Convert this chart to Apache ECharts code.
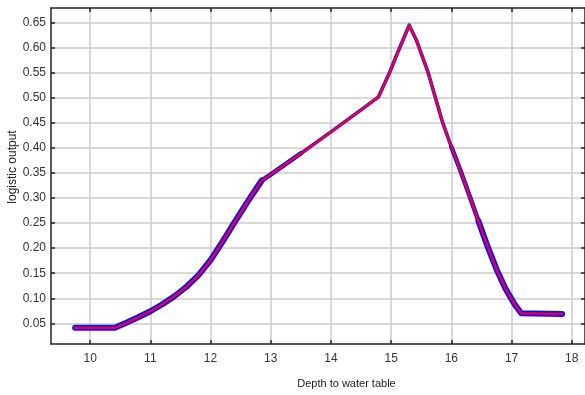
<!DOCTYPE html>
<html>
<head>
<meta charset="utf-8">
<script src="https://cdn.jsdelivr.net/npm/echarts@6/dist/echarts.min.js"></script>
<style>
  html, body { margin: 0; padding: 0; background: #fff; }
  #chart { width: 585px; height: 395px; }
</style>
</head>
<body>
<div id="chart"></div>
<script>
// Response curve: logistic output against depth to water table
const depth  = [9.75, 10.41, 10.6, 10.8, 11.0, 11.2, 11.4, 11.6, 11.8, 12.0, 12.2, 12.4, 12.6, 12.75, 12.85,
                13.0, 13.5, 14.0, 14.5, 14.79, 14.98, 15.1, 15.3, 15.42, 15.61, 15.86,
                16.0, 16.16, 16.3, 16.45, 16.6, 16.75, 16.9, 17.05, 17.16, 17.84];
const output = [0.041, 0.041, 0.051, 0.062, 0.074, 0.088, 0.104, 0.123, 0.146, 0.176, 0.213, 0.252, 0.290, 0.317, 0.335,
                0.347, 0.389, 0.432, 0.476, 0.502, 0.552, 0.588, 0.645, 0.615, 0.552, 0.449,
                0.402, 0.352, 0.305, 0.254, 0.204, 0.158, 0.119, 0.088, 0.070, 0.0685];

const xTicks = [10, 11, 12, 13, 14, 15, 16, 17, 18];
const yTicks = [0.05, 0.10, 0.15, 0.20, 0.25, 0.30, 0.35, 0.40, 0.45, 0.50, 0.55, 0.60, 0.65];

const points = depth.map((d, i) => [d, output[i]]);
const within = (lo, hi) => points.filter(p => p[0] >= lo && p[0] <= hi);

const FONT = 'Liberation Sans, Arial, sans-serif';
const AXIS_COLOR = '#222';
const GRID_COLOR = '#cbcbcb';
const BLUE = '#1010ff';
const RED = '#e6003c';

const tickStyle = { show: true, inside: true, length: 4, lineStyle: { color: AXIS_COLOR, width: 1.5 } };

// blue spread drawn in pieces: wide on the flanks, narrow around the peak
const spread = (lo, hi, width) => ({
  type: 'line', xAxisIndex: 0, yAxisIndex: 0, data: within(lo, hi), showSymbol: false,
  lineStyle: { color: BLUE, width: width, join: 'round', cap: 'round' }, z: 2
});

const chart = echarts.init(document.getElementById('chart'), null, { renderer: 'canvas' });

chart.setOption({
  animation: false,
  backgroundColor: '#fff',
  grid: { left: 51, right: 0, top: 8, bottom: 51, containLabel: false, outerBoundsMode: 'none' },
  xAxis: [
    {
      type: 'value', position: 'bottom', min: 9.35, max: 18.22,
      name: 'Depth to water table', nameLocation: 'middle', nameGap: 34, nameMoveOverlap: false,
      nameTextStyle: { fontFamily: FONT, fontSize: 11, color: '#222', padding: [0, 0, 0, 57] },
      axisLine: { show: true, onZero: false, lineStyle: { color: AXIS_COLOR, width: 1.5 } },
      axisTick: Object.assign({ customValues: xTicks }, tickStyle),
      axisLabel: { customValues: xTicks, margin: 9, fontFamily: FONT, fontSize: 12, color: '#333' },
      splitLine: { show: true, lineStyle: { color: GRID_COLOR, width: 1.5 } }
    },
    {
      type: 'value', position: 'top', min: 9.35, max: 18.22,
      axisLine: { show: true, onZero: false, lineStyle: { color: AXIS_COLOR, width: 1.5 } },
      axisTick: Object.assign({ customValues: xTicks }, tickStyle),
      axisLabel: { show: false },
      splitLine: { show: false }
    }
  ],
  yAxis: [
    {
      type: 'value', position: 'left', min: 0.0087, max: 0.6793,
      name: 'logistic output', nameLocation: 'middle', nameGap: 32, nameMoveOverlap: false,
      nameTextStyle: { fontFamily: FONT, fontSize: 12, color: '#222', padding: [0, 0, 0, 18] },
      axisLine: { show: true, onZero: false, lineStyle: { color: AXIS_COLOR, width: 1.5 } },
      axisTick: Object.assign({ customValues: yTicks }, tickStyle),
      axisLabel: { customValues: yTicks, margin: 5, fontFamily: FONT, fontSize: 12, color: '#333',
                   formatter: v => v.toFixed(2) },
      splitLine: { show: true, lineStyle: { color: GRID_COLOR, width: 1.5 } }
    },
    {
      type: 'value', position: 'right', min: 0.0087, max: 0.6793,
      axisLine: { show: true, onZero: false, lineStyle: { color: AXIS_COLOR, width: 1.5 } },
      axisTick: Object.assign({ customValues: yTicks }, tickStyle),
      axisLabel: { show: false },
      splitLine: { show: false }
    }
  ],
  series: [
    spread(9, 12.85, 6),
    spread(12.85, 13.5, 4.6),
    spread(13.5, 16.0, 3.6),
    spread(16.0, 16.45, 4.6),
    spread(16.45, 19, 6),
    // mean response
    { type: 'line', xAxisIndex: 0, yAxisIndex: 0, data: points, showSymbol: false,
      lineStyle: { color: RED, width: 2.4, join: 'round', cap: 'round' }, z: 3 }
  ]
});
</script>
</body>
</html>
